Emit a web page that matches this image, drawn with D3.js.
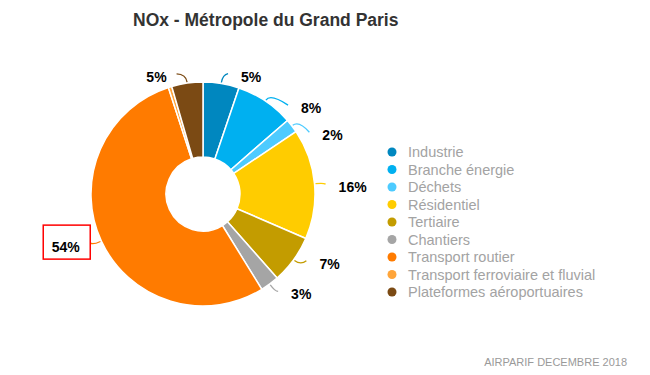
<!DOCTYPE html>
<meta charset="utf-8">
<head>
    <title>NOx - Métropole du Grand Paris</title>
    <script src="https://cdn.jsdelivr.net/npm/d3@7"></script>
</head>

<style>
    body { margin: 0; background: #fff; }
    .slice { stroke: #fff; stroke-width: 1.5px; }
    .pct { font-family: "Liberation Sans", Arial, sans-serif; font-weight: bold; font-size: 14px; fill: #000; }
    .legend text { font-family: "Liberation Sans", Arial, sans-serif; font-size: 14.5px; fill: #a3a3a3; }
</style>

<svg width="650" height="375"></svg>

<script>
    var categories = ["Industrie", "Branche énergie", "Déchets", "Résidentiel", "Tertiaire",
        "Chantiers", "Transport routier", "Transport ferroviaire et fluvial", "Plateformes aéroportuaires"];
    var values = [5.2, 8.4, 2.0, 15.9, 7.0, 2.7, 53.8, 0.5, 4.5];
    var colors = ["#0087bf", "#00b0f0", "#4dcbff", "#ffcc00", "#c39c00",
        "#a5a5a5", "#ff7b00", "#ffa53a", "#7b4a14"];

    var width = 650, height = 375;
    var cx = 203, cy = 194, outerR = 112, innerR = 37;
    // how far each leader turns away from the slice middle (degrees)
    var nudge = [2.4, 9.9, 7.3, 0.6, -3.2, -1.1, 1.3, 0, -4.3];

    var svg = d3.select('svg');

    svg.append('text')
        .attr('x', 133).attr('y', 26)
        .style('font-family', '"Liberation Sans", Arial, sans-serif')
        .style('font-weight', 'bold').style('font-size', '17.5px').style('fill', '#333')
        .text('NOx - Métropole du Grand Paris');

    svg.append('text')
        .attr('x', 627).attr('y', 366).attr('text-anchor', 'end')
        .style('font-family', '"Liberation Sans", Arial, sans-serif')
        .style('font-size', '11px').style('fill', '#9a9a9a')
        .text('AIRPARIF DECEMBRE 2018');

    var pie = d3.pie().sort(null).value(function (d) { return d; });
    var arcs = pie(values);
    var arc = d3.arc().innerRadius(innerR).outerRadius(outerR);

    var g = svg.append('g').attr('transform', 'translate(' + cx + ',' + cy + ')');

    g.selectAll('path.slice').data(arcs).enter().append('path')
        .attr('class', 'slice')
        .attr('d', arc)
        .style('fill', function (d, i) { return colors[i]; });

    function pt(a, r) { return [r * Math.sin(a), -r * Math.cos(a)]; }

    // leaders and labels
    arcs.forEach(function (d, i) {
        if (values[i] < 1) return;
        var mid = (d.startAngle + d.endAngle) / 2;
        var p0 = pt(mid, outerR + 1);
        var p1 = pt(mid, outerR + 9);
        var p2 = pt(mid + nudge[i] * Math.PI / 180, 123);
        var right = p2[0] > 0;
        var path = d3.path();
        path.moveTo(p0[0], p0[1]);
        path.quadraticCurveTo(p1[0], p1[1], p2[0], p2[1]);
        g.append('path').attr('d', path.toString())
            .style('fill', 'none').style('stroke', colors[i]).style('stroke-width', 1.3);

        var label = Math.round(values[i]) + '%';
        if (i === 6) {
            // boxed label
            var bw = 47, bh = 34;
            g.append('rect')
                .attr('x', p2[0] - bw).attr('y', p2[1] - bh / 2 - 1)
                .attr('width', bw).attr('height', bh)
                .style('fill', 'none').style('stroke', '#ff0000').style('stroke-width', 1.5);
            g.append('text').attr('class', 'pct')
                .attr('x', p2[0] - bw / 2 - 1).attr('y', p2[1] + 9)
                .attr('text-anchor', 'middle').text(label);
            return;
        }
        g.append('text').attr('class', 'pct')
            .attr('x', right ? p2[0] + 13 : p2[0] - 10)
            .attr('y', p2[1] + 8)
            .attr('text-anchor', right ? 'start' : 'end')
            .text(label);
    });

    // legend
    var y = d3.scalePoint().domain(categories).range([152, 292]);
    var leg = svg.append('g').attr('class', 'legend');
    var rows = leg.selectAll('g').data(categories).enter().append('g')
        .attr('transform', function (d) { return 'translate(392,' + y(d) + ')'; });
    rows.append('circle').attr('r', 4.5)
        .style('fill', function (d, i) { return colors[i]; });
    rows.append('text').attr('x', 16).attr('y', 5).text(function (d) { return d; });
</script>
